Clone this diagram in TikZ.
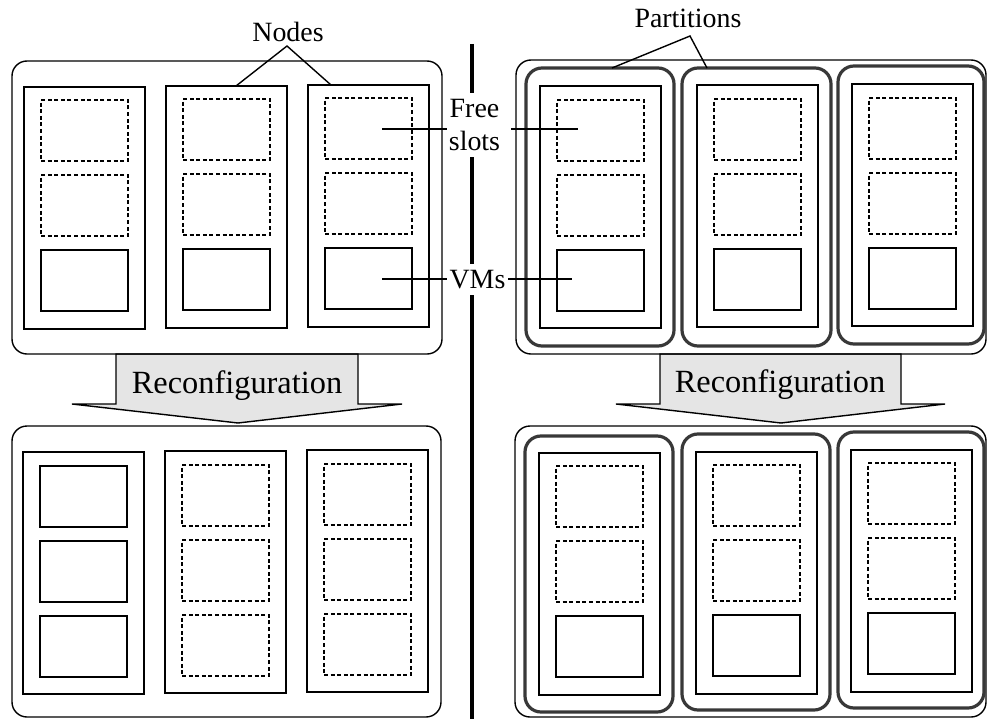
\documentclass[tikz,border=0pt]{standalone}
\usepackage{fontspec}
\setmainfont{Liberation Serif}
\begin{document}
\begin{tikzpicture}[x=1bp,y=-1bp,
  box/.style={draw, inner sep=0pt, outer sep=0pt, anchor=north west, line width=1.4bp},
  cluster/.style={box, rounded corners=15bp},
  colbox/.style={box, minimum width=121bp, minimum height=242bp},
  part/.style={box, rounded corners=16bp, line width=3.2bp, draw=black!78},
  free/.style={box, line width=1.3bp, dash pattern=on 4bp off 2.6bp, minimum width=87bp, minimum height=61bp},
  vm/.style={box, minimum width=87bp, minimum height=61bp},
  lbl/.style={font=\fontsize{28}{34}\selectfont, inner sep=0pt, align=center},
  big/.style={font=\fontsize{32.5}{36}\selectfont, inner sep=0pt, anchor=base},
  link/.style={line width=1.4bp},
  arrowshape/.style={draw, fill=black!10, line width=1.4bp, line join=miter},
  divider/.style={line width=3.2bp}
]
\useasboundingbox (0,0) rectangle (987,719);

% reconfiguration arrows (drawn first)
\draw[arrowshape] (116,354) -- (116,404) -- (72,404) -- (238,423) -- (402,404) -- (358,404) -- (358,354) -- cycle;
\draw[arrowshape] (660,354) -- (660,404) -- (616,404) -- (781,423) -- (945,404) -- (901,404) -- (901,354) -- cycle;
\node[big] (rl) at (237,393) {Reconfiguration};
\node[big] (rr) at (780,392) {Reconfiguration};

% ---------- top left ----------
\node[cluster, minimum width=430bp, minimum height=293bp] (tlo) at (12,61) {};
\foreach \i/\cx/\cy in {1/24/87,2/166/86,3/308/85}{
  \node[colbox] (tlc\i) at (\cx,\cy) {};
  \node[free] (tlf\i-a) at (\cx+17,\cy+13) {};
  \node[free] (tlf\i-b) at (\cx+17,\cy+88) {};
  \node[vm] (tlv\i) at (\cx+17,\cy+163) {};
}

% ---------- bottom left ----------
\node[cluster, minimum width=429bp, minimum height=291bp] (blo) at (12,426) {};
\node[colbox] (blc1) at (23,452) {};
\node[vm] (blv1-a) at (40,466) {};
\node[vm] (blv1-b) at (40,541) {};
\node[vm] (blv1-c) at (40,616) {};
\foreach \i/\cx/\cy in {2/165/451,3/307/450}{
  \node[colbox] (blc\i) at (\cx,\cy) {};
  \node[free] (blf\i-a) at (\cx+17,\cy+14) {};
  \node[free] (blf\i-b) at (\cx+17,\cy+89) {};
  \node[free] (blf\i-c) at (\cx+17,\cy+164) {};
}

% ---------- top right ----------
\node[cluster, minimum width=470bp, minimum height=294bp] (tro) at (516,60) {};
\node[part, minimum width=148bp, minimum height=278bp] (trp1) at (526,68) {};
\node[part, minimum width=149bp, minimum height=278bp] (trp2) at (682,68) {};
\node[part, minimum width=146bp, minimum height=278bp] (trp3) at (838,66) {};
\foreach \i/\cx/\cy in {1/540/86,2/697/85,3/852/84}{
  \node[colbox] (trc\i) at (\cx,\cy) {};
  \node[free] (trf\i-a) at (\cx+17,\cy+14) {};
  \node[free] (trf\i-b) at (\cx+17,\cy+89) {};
  \node[vm] (trv\i) at (\cx+17,\cy+164) {};
}

% ---------- bottom right ----------
\node[cluster, minimum width=471bp, minimum height=291bp] (bro) at (515,426) {};
\node[part, minimum width=148bp, minimum height=276bp] (brp1) at (525,436) {};
\node[part, minimum width=148bp, minimum height=276bp] (brp2) at (682,434) {};
\node[part, minimum width=146bp, minimum height=276bp] (brp3) at (838,432) {};
\foreach \i/\cx/\cy in {1/539/453,2/696/452,3/851/450}{
  \node[colbox] (brc\i) at (\cx,\cy) {};
  \node[free] (brf\i-a) at (\cx+17,\cy+13) {};
  \node[free] (brf\i-b) at (\cx+17,\cy+88) {};
  \node[vm] (brv\i) at (\cx+17,\cy+163) {};
}

% ---------- labels ----------
\node[lbl, anchor=base] (nodeslbl) at (288,42) {Nodes};
\coordinate (napex) at (287,46);
\coordinate (na) at (236,86);
\coordinate (nb) at (331,85);
\draw[link] (na) -- (napex) -- (nb);

\node[lbl, anchor=base] (partlbl) at (688,28) {Partitions};
\coordinate (papex) at (690,36);
\coordinate (pa) at (612,68);
\coordinate (pb) at (707,68);
\draw[link] (pa) -- (papex) -- (pb);

\node[lbl, minimum height=64bp] (fs) at (474.5,125) {Free\\slots};
\node[lbl, minimum height=31bp] (vms) at (477.5,279.5) {VMs};

\coordinate (fsl1) at (382,129);
\coordinate (fsl2) at (447,129);
\coordinate (fsr1) at (511,129);
\coordinate (fsr2) at (578,129);
\draw[link] (fsl1) -- (fsl2);
\draw[link] (fsr1) -- (fsr2);

\coordinate (vml1) at (382,279);
\coordinate (vml2) at (447,279);
\coordinate (vmr1) at (508,279);
\coordinate (vmr2) at (572,279);
\draw[link] (vml1) -- (vml2);
\draw[link] (vmr1) -- (vmr2);

% divider
\coordinate (dtop) at (472,44);
\coordinate (dbot) at (472,719);
\draw[divider] (dtop) -- (dtop |- fs.north);
\draw[divider] (dtop |- fs.south) -- (dtop |- vms.north);
\draw[divider] (dtop |- vms.south) -- (dbot);
\end{tikzpicture}
\end{document}
